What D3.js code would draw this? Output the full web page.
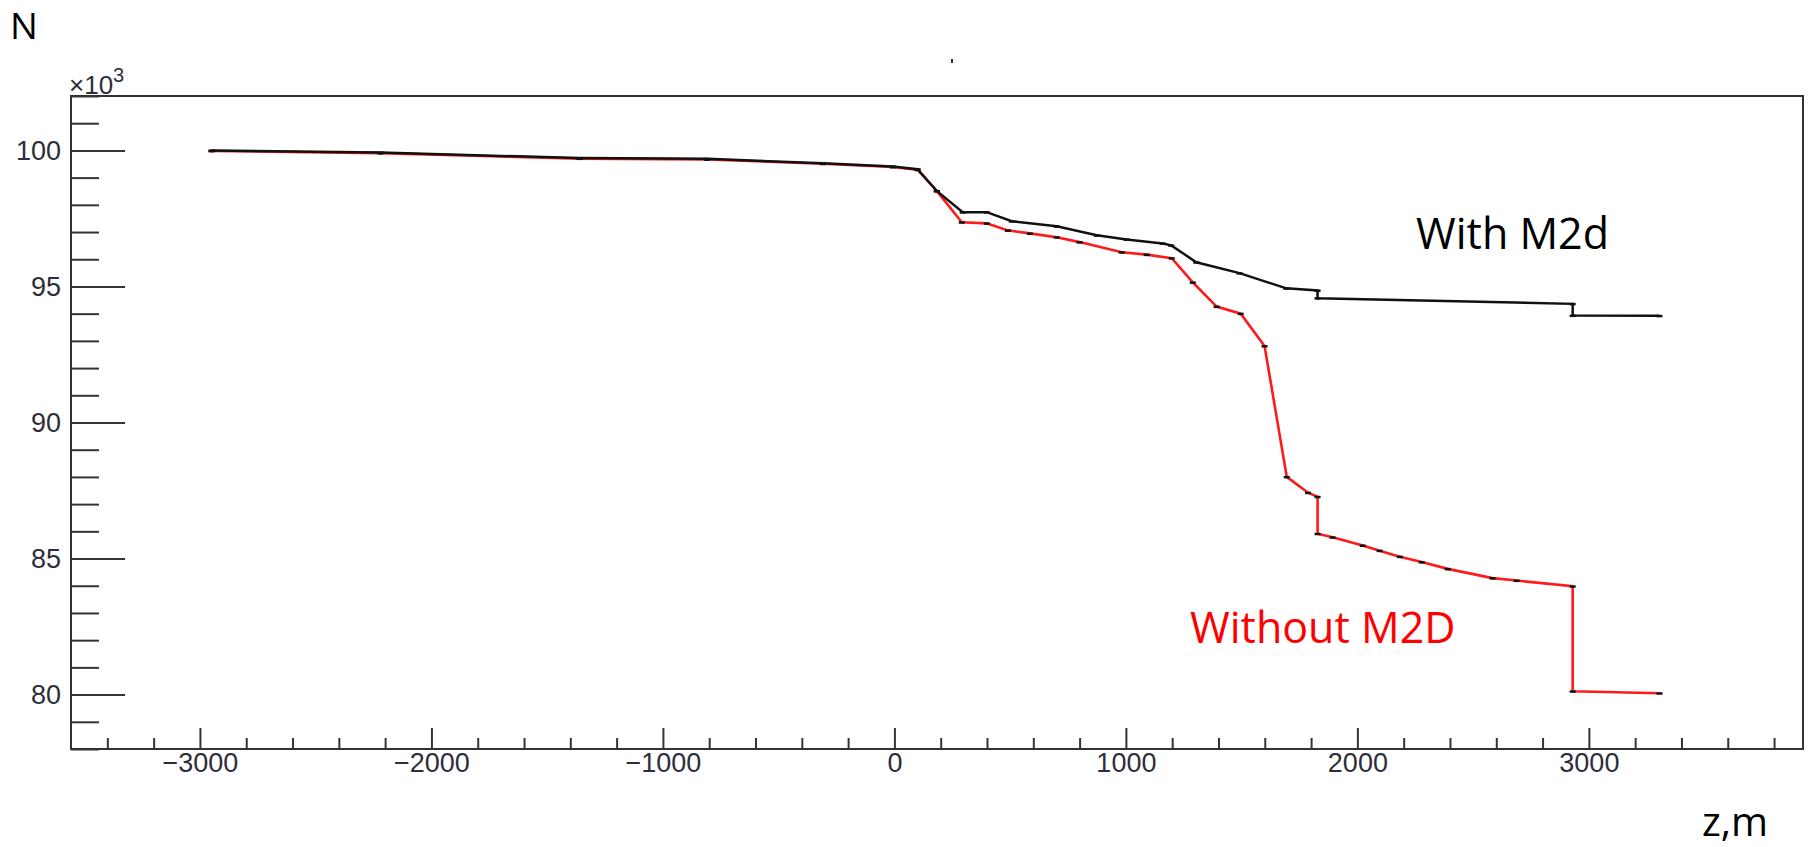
<!DOCTYPE html>
<html>
<head>
<meta charset="utf-8">
<script src="https://cdn.jsdelivr.net/npm/d3@7"></script>
<style>
  body { margin: 0; background: #fff; }
  svg { display: block; }
  .axis text { font-family: "Liberation Sans", Arial, sans-serif; font-size: 27px; fill: #2e2e3a; }
  .axis line { stroke: #333; stroke-width: 2px; }
  .note { font-family: "Open Sans", "Noto Sans", sans-serif; }
</style>
</head>
<body>
<svg id="chart" width="1814" height="847"></svg>
<script>
// ----------- DATA -----------
// z in metres, N in units of 10^3
const zWith = [-2950, -2220, -1360, -810, -310, -7, 100, 183, 295, 399, 507, 701, 874, 1003, 1159, 1196, 1304, 1491, 1693, 1828, 1828, 2930, 2930, 3305];
const nWith = [100.0, 99.92, 99.72, 99.69, 99.53, 99.41, 99.31, 98.51, 97.73, 97.73, 97.40, 97.21, 96.88, 96.73, 96.58, 96.51, 95.89, 95.49, 94.93, 94.85, 94.57, 94.36, 93.93, 93.92];

const zWithout = [-2950, -2220, -1360, -810, -310, -7, 100, 183, 291, 399, 490, 585, 701, 800, 982, 1090, 1198, 1289, 1392, 1496, 1599, 1695, 1787, 1828, 1828, 1893, 2023, 2096, 2183, 2278, 2390, 2584, 2688, 2930, 2930, 3305];
const nWithout = [99.98, 99.9, 99.7, 99.67, 99.51, 99.39, 99.29, 98.51, 97.36, 97.32, 97.06, 96.95, 96.81, 96.63, 96.26, 96.17, 96.04, 95.15, 94.26, 94.00, 92.81, 88.00, 87.42, 87.27, 85.91, 85.78, 85.48, 85.29, 85.07, 84.87, 84.62, 84.28, 84.19, 83.98, 80.12, 80.05];

const xMajorTicks = [-3000, -2000, -1000, 0, 1000, 2000, 3000];
const yMajorTicks = [80, 85, 90, 95, 100];

// ----------- LAYOUT -----------
const svg = d3.select("#chart");
const frame = { left: 71, top: 96, right: 1803, bottom: 749 };

const x = d3.scaleLinear().domain([-3557, 3925]).range([frame.left, frame.right]);
const y = d3.scaleLinear().domain([78, 102]).range([frame.bottom, frame.top]);

// ----------- AXES -----------
const xMinor = d3.range(-3400, 3801, 200).filter(v => v % 1000 !== 0);
const yMinor = d3.range(78, 103, 1).filter(v => v % 5 !== 0);

svg.append("g")
  .attr("class", "axis")
  .attr("transform", `translate(0,${frame.bottom})`)
  .call(d3.axisBottom(x).tickValues(xMinor).tickSize(-11).tickFormat(""))
  .call(g => g.select(".domain").remove());

svg.append("g")
  .attr("class", "axis")
  .attr("transform", `translate(0,${frame.bottom})`)
  .call(d3.axisBottom(x).tickValues(xMajorTicks).tickSize(-21).tickPadding(4).tickFormat(d3.format("d")))
  .call(g => g.select(".domain").remove());

svg.append("g")
  .attr("class", "axis")
  .attr("transform", `translate(${frame.left},0)`)
  .call(d3.axisLeft(y).tickValues(yMinor).tickSize(-28).tickFormat(""))
  .call(g => g.select(".domain").remove());

svg.append("g")
  .attr("class", "axis")
  .attr("transform", `translate(${frame.left},0)`)
  .call(d3.axisLeft(y).tickValues(yMajorTicks).tickSize(-54).tickPadding(10))
  .call(g => g.select(".domain").remove());

svg.append("rect")
  .attr("x", frame.left)
  .attr("y", frame.top)
  .attr("width", frame.right - frame.left)
  .attr("height", frame.bottom - frame.top)
  .attr("fill", "none")
  .attr("stroke", "#333")
  .attr("stroke-width", 2);

// x10^3 multiplier
const mult = svg.append("text")
  .attr("x", frame.left - 2)
  .attr("y", 94)
  .style("font-family", "Liberation Sans, Arial, sans-serif")
  .style("font-size", "26px")
  .style("fill", "#2e2e3a");
mult.append("tspan").text("×10");
mult.append("tspan").attr("dy", -12).style("font-size", "20px").text("3");

// ----------- CURVES -----------
const line = d3.line().x(d => x(d[0])).y(d => y(d[1]));

const withoutPts = d3.zip(zWithout, nWithout);
const withPts = d3.zip(zWith, nWith);

svg.append("path")
  .datum(withoutPts)
  .attr("d", line)
  .attr("fill", "none")
  .attr("stroke", "#ff1a1a")
  .attr("stroke-width", 2.6);

svg.append("path")
  .datum(withPts)
  .attr("d", line)
  .attr("fill", "none")
  .attr("stroke", "#111")
  .attr("stroke-width", 2.5);

// small black markers at each point
svg.selectAll("rect.mk")
  .data(withoutPts.concat(withPts))
  .enter()
  .append("rect")
  .attr("class", "mk")
  .attr("x", d => x(d[0]) - 3)
  .attr("y", d => y(d[1]) - 1)
  .attr("width", 6)
  .attr("height", 2.5)
  .attr("fill", "#111");

// ----------- LABELS -----------
svg.append("text").attr("class", "note")
  .attr("x", 10).attr("y", 39)
  .style("font-size", "37px")
  .text("N");

svg.append("text").attr("class", "note")
  .attr("x", 1702).attr("y", 836)
  .style("font-size", "40px")
  .text("z,m");

svg.append("text").attr("class", "note")
  .attr("x", 1416).attr("y", 249)
  .style("font-size", "43px")
  .text("With M2d");

svg.append("text").attr("class", "note")
  .attr("x", 1190).attr("y", 643)
  .style("font-size", "43px")
  .style("fill", "#ff0000")
  .text("Without M2D");

// stray tick mark above the frame
svg.append("rect")
  .attr("x", 951).attr("y", 59)
  .attr("width", 2).attr("height", 4)
  .attr("fill", "#333");
</script>
</body>
</html>
